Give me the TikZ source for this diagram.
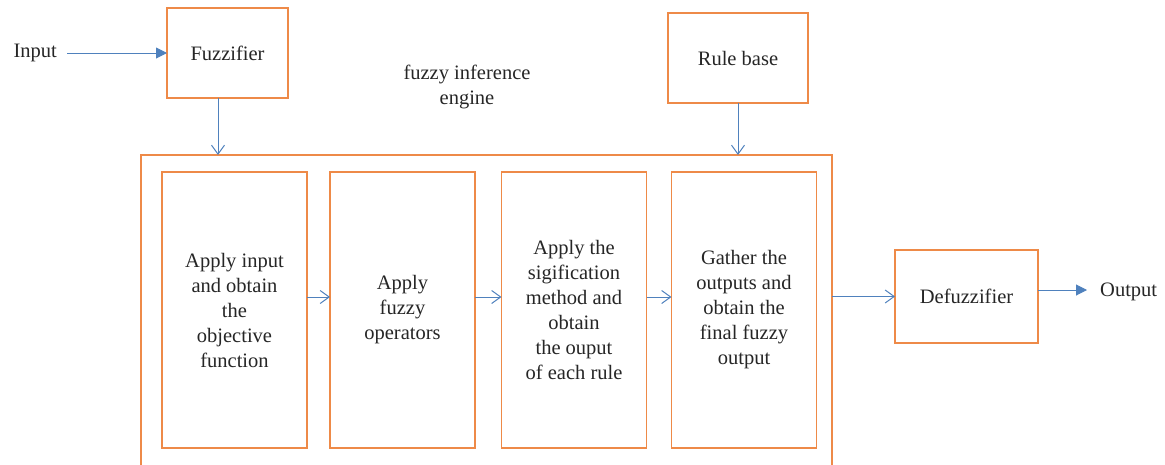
\documentclass[tikz,border=0pt]{standalone}
\usepackage{fontspec}
\setmainfont{Liberation Serif}
\usetikzlibrary{arrows.meta,calc}
\definecolor{boxc}{RGB}{238,138,72}
\definecolor{arrc}{RGB}{79,129,189}
\tikzset{
  every node/.style={font=\fontsize{20.5}{25}\selectfont,text=black!85},
  blk/.style={draw=boxc,line width=1.1pt,fill=white,align=center,inner sep=0pt,outer sep=0pt},
  stepbox/.style={blk,minimum width=145pt,minimum height=276pt},
  lbl/.style={inner sep=0pt,align=center},
  flow/.style={-{Straight Barb[length=9pt,width=13pt]},draw=arrc,line width=1pt},
  flowin/.style={-{Triangle[length=11pt,width=11pt]},draw=arrc,line width=1pt},
}
\begin{document}
\begin{tikzpicture}[x=1pt,y=-1pt]
  \useasboundingbox (0,0) rectangle (1165,464);
  \clip (0,0) rectangle (1165,464);

  % outer blocks
  \node[blk,minimum width=121pt,minimum height=90pt] (fuzz) at (227.5,53) {Fuzzifier};
  \node[blk,minimum width=140pt,minimum height=90pt] (rule) at (738,58) {Rule base};
  \node[blk,minimum width=143pt,minimum height=93pt] (defuzz) at (966.5,296.5) {Defuzzifier};
  \node[blk,minimum width=691pt,minimum height=335pt] (engine) at (486.5,322.5) {};
  \node[lbl] (title) at (467,87) {fuzzy inference\\engine};

  % steps of the engine
  \node[stepbox] (s1) at (234.5,310) {Apply input\\and obtain\\the\\objective\\function};
  \node[stepbox] (s2) at (402.5,310) {Apply\\fuzzy\\operators};
  \node[stepbox] (s3) at (574,310) {Apply the\\sigification\\method and\\obtain\hspace*{46pt}\\ the ouput\\of each rule};
  \node[stepbox] (s4) at (744,310) {Gather the\\outputs and\\obtain the\\final fuzzy\\output};

  % end labels
  \node[lbl,anchor=east] (in) at (57,53) {Input};
  \node[lbl,anchor=west] (out) at (1100,292) {Output};
  \coordinate (oarr) at ([yshift=6.5pt]defuzz.east);

  \draw[flowin,shorten <=10pt] (in.east |- fuzz.west) -- (fuzz.west);
  \draw[flow] ([xshift=-9.5pt]fuzz.south) -- ([xshift=-9.5pt]fuzz.south |- engine.north);
  \draw[flow] (rule.south) -- (rule.south |- engine.north);
  \draw[flow] ([yshift=13pt]s1.east) -- ([yshift=13pt]s2.west);
  \draw[flow] ([yshift=13pt]s2.east) -- ([yshift=13pt]s3.west);
  \draw[flow] ([yshift=13pt]s3.east) -- ([yshift=13pt]s4.west);
  \draw[flow] (engine.east |- defuzz.west) -- (defuzz.west);
  \draw[flowin,shorten >=13pt] (oarr) -- (oarr -| out.west);
\end{tikzpicture}
\end{document}
